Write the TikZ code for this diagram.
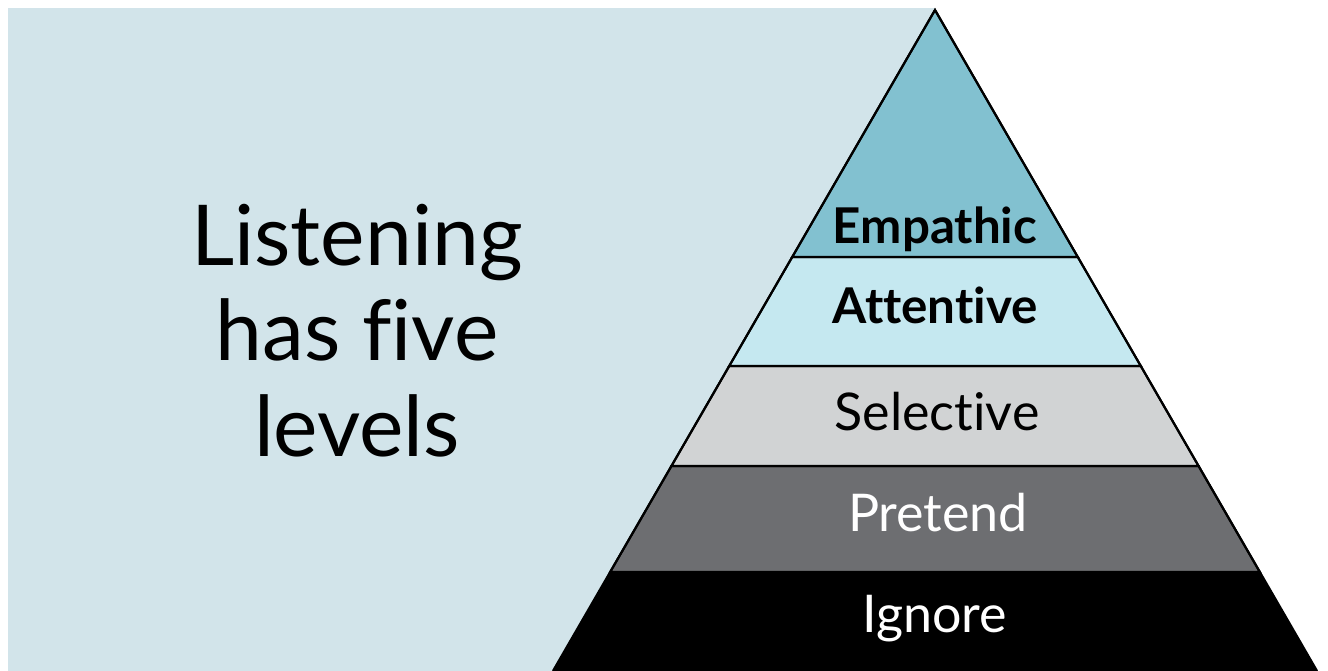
\documentclass[tikz,border=0pt]{standalone}
\usepackage{fontspec}
\setmainfont{Lato}[Ligatures=NoCommon]
\definecolor{panelbg}{HTML}{D2E4EA}
\definecolor{empathic}{HTML}{82C1D0}
\definecolor{attentive}{HTML}{C5E8F0}
\definecolor{selective}{HTML}{D1D3D4}
\definecolor{pretend}{HTML}{6D6E71}
\begin{document}
\begin{tikzpicture}[x=0.75pt,y=-0.75pt,
  band/.style={draw=black,line width=1.6pt,line join=miter},
  lvl/.style={anchor=base,font=\fontsize{39}{44}\selectfont,inner sep=0pt},
  lvlbold/.style={lvl,font=\fontsize{37}{42}\bfseries\selectfont},
  title/.style={anchor=base,font=\fontsize{63}{72}\selectfont,inner sep=0pt}]
\useasboundingbox (0,0) rectangle (1328,671);
% page and background panel
\fill[white] (0,0) rectangle (1328,671);
\fill[panelbg] (8,8) rectangle (935,671);
% pyramid corners at each band boundary
\coordinate (apex) at (935,10);
\coordinate (l1) at ({935-0.578*247},257); \coordinate (r1) at ({935+0.578*247},257);
\coordinate (l2) at ({935-0.578*356},366); \coordinate (r2) at ({935+0.578*356},366);
\coordinate (l3) at ({935-0.578*456},466); \coordinate (r3) at ({935+0.578*456},466);
\coordinate (l4) at ({935-0.578*562},572); \coordinate (r4) at ({935+0.578*562},572);
\coordinate (l5) at ({935-0.578*661},671); \coordinate (r5) at ({935+0.578*661},671);
% bands, bottom to top
\fill[black] (l4) -- (r4) -- (r5) -- (l5) -- cycle;
\filldraw[band,fill=pretend] (l3) -- (r3) -- (r4) -- (l4) -- cycle;
\filldraw[band,fill=selective] (l2) -- (r2) -- (r3) -- (l3) -- cycle;
\filldraw[band,fill=attentive] (l1) -- (r1) -- (r2) -- (l2) -- cycle;
\filldraw[band,fill=empathic] (apex) -- (r1) -- (l1) -- cycle;
\draw[band] (l5) -- (apex) -- (r5);
% level labels
\node[lvlbold] (emp) at (935,243) {Empathic};
\node[lvlbold] (att) at (935,323) {Attentive};
\node[lvl] (sel) at (937,430) {Selective};
\node[lvl,text=white] (pre) at (938,531) {Pretend};
\node[lvl,text=white] (ign) at (935,632) {Ignore};
% heading
\node[title] (h1) at (357,265) {Listening};
\node[title] (h2) at (357,360) {has five};
\node[title] (h3) at (357,456) {levels};
\end{tikzpicture}
\end{document}
